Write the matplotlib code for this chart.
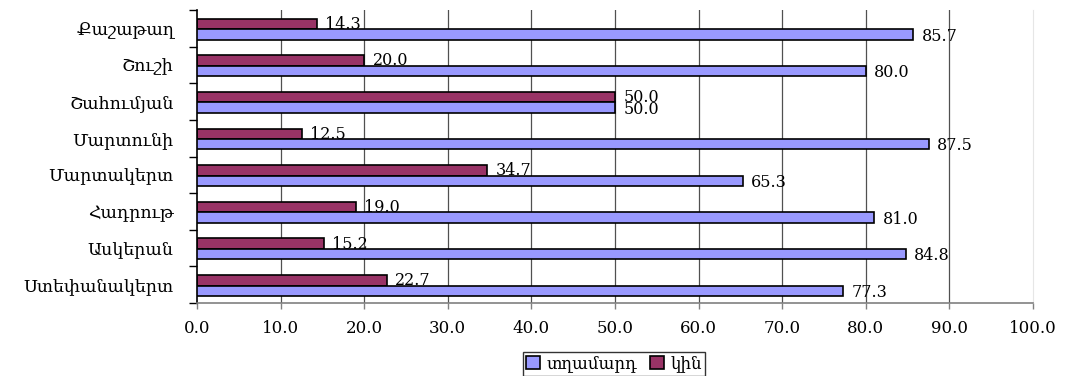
import matplotlib
matplotlib.use("Agg")
import matplotlib.pyplot as plt
import numpy as np

categories = ["Քաշաթաղ", "Շուշի", "Շահումյան", "Մարտունի", "Մարտակերտ",
              "Հադրութ", "Ասկերան", "Ստեփանակերտ"]
men = [85.7, 80.0, 50.0, 87.5, 65.3, 81.0, 84.8, 77.3]
women = [14.3, 20.0, 50.0, 12.5, 34.7, 19.0, 15.2, 22.7]
series_names = ["տղամարդ", "կին"]
xticks = [0, 10, 20, 30, 40, 50, 60, 70, 80, 90, 100]

FAM = ["DejaVu Serif"]
plt.rcParams['font.family'] = FAM

fig = plt.figure(figsize=(10.67, 3.76), dpi=100)
ax = fig.add_axes([197/1067, 1 - 303/376, (1033 - 197)/1067, (303 - 10)/376])

y = np.arange(len(categories))
h = 0.285
blue = "#9999FF"
maroon = "#993366"

bw = ax.barh(y - 0.12, women, height=h, color=maroon, edgecolor="black", linewidth=1.2, zorder=2, label=series_names[1])
bm = ax.barh(y + 0.165, men, height=h, color=blue, edgecolor="black", linewidth=1.2, zorder=4, label=series_names[0])

for yi, v in zip(y, women):
    ax.text(v + 1.0, yi - 0.11, f"{v:.1f}", va="center", ha="left", fontsize=11.5, zorder=3)
for yi, v in zip(y, men):
    ax.text(v + 1.0, yi + 0.21, f"{v:.1f}", va="center", ha="left", fontsize=11.5, zorder=5)

ax.set_xlim(0, 100)
ax.set_ylim(7.5, -0.5)
ax.set_xticks(xticks)
ax.set_xticklabels([f"{t:.1f}" for t in xticks], fontsize=12)
ax.set_yticks(y)
ax.set_yticklabels(categories, fontsize=12.5)
ax.set_yticks(np.arange(-0.5, 8, 1), minor=True)
ax.tick_params(axis="y", which="major", length=0, pad=17)
ax.tick_params(axis="y", which="minor", length=6, width=1, color="black")
ax.tick_params(axis="x", which="major", length=4, width=1, color="#808080", pad=8)

for t in xticks[1:-1]:
    ax.axvline(t, color="#505050", linewidth=0.9, zorder=1)

ax.spines["top"].set_visible(False)
ax.spines["right"].set_color("#e6e6e6")
ax.spines["left"].set_color("black")
ax.spines["left"].set_linewidth(1.2)
ax.spines["bottom"].set_color("#808080")
ax.spines["bottom"].set_linewidth(1.2)

leg = fig.legend(handles=[bm, bw], labels=series_names, loc="upper center",
                 bbox_to_anchor=(614/1067, 1 - 352/376), ncol=2, fontsize=12,
                 frameon=True, fancybox=False, edgecolor="black",
                 handlelength=0.8, handleheight=0.8, handletextpad=0.4,
                 columnspacing=0.8, borderpad=0.2, borderaxespad=0)
leg.get_frame().set_linewidth(1.0)

fig.savefig("out.png", dpi=100)
